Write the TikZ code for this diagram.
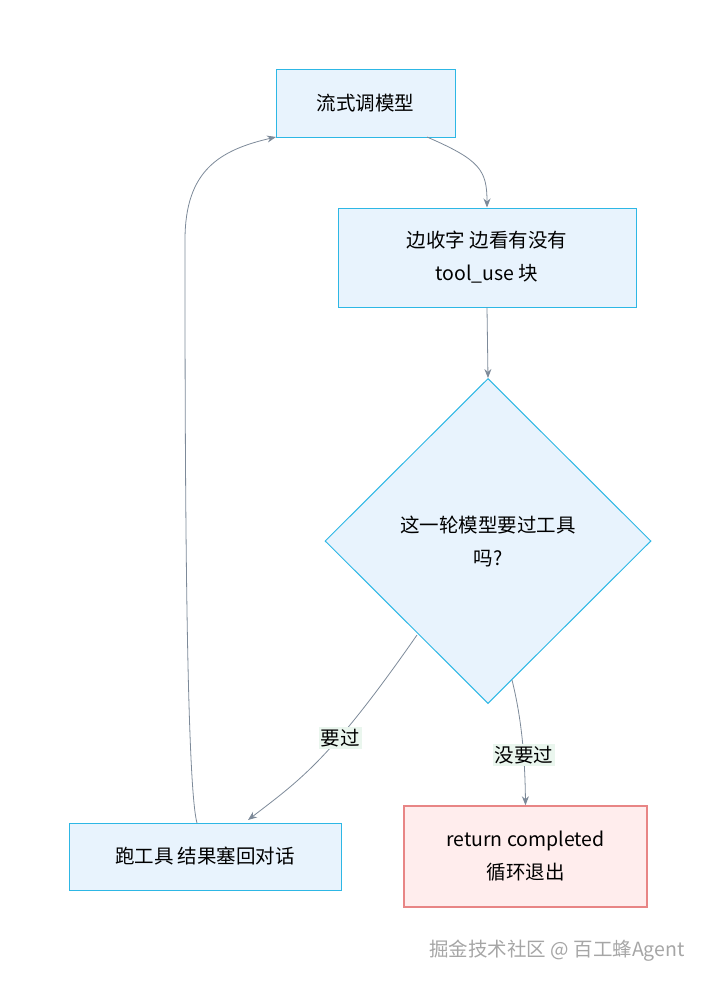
\documentclass[tikz,border=0pt]{standalone}
\usepackage{fontspec}
\setmainfont{Noto Sans CJK SC}
\usetikzlibrary{shapes.geometric,arrows.meta}
\definecolor{bfill}{HTML}{E8F3FD}
\definecolor{bline}{HTML}{2DB7E5}
\definecolor{rfill}{HTML}{FFEDED}
\definecolor{rline}{HTML}{E88585}
\definecolor{arr}{HTML}{7D8A99}
\definecolor{lbl}{HTML}{EAF6EE}
\begin{document}
\begin{tikzpicture}[x=1pt,y=-1pt,
  box/.style={draw=bline,fill=bfill,line width=1pt,align=center,font=\fontsize{19.5}{33}\selectfont,inner sep=0},
  conn/.style={draw=arr,line width=0.8pt,-{Stealth[length=9pt,width=7pt]}},
  lab/.style={fill=lbl,font=\fontsize{19.5}{22}\selectfont,inner sep=2pt}]
\useasboundingbox (0,0) rectangle (720,988);
\node[box,minimum width=179,minimum height=68] (A) at (365.5,103) {流式调模型};
\node[box,minimum width=298,minimum height=99] (B) at (487,257.5) {边收字 边看有没有\\tool\_use 块};
\node[box,diamond,minimum width=326,minimum height=325] (C) at (488,541) {这一轮模型要过工具\\吗?};
\node[box,minimum width=272,minimum height=67] (D) at (205,856.5) {跑工具 结果塞回对话};
\node[box,draw=rline,fill=rfill,line width=1.5pt,minimum width=243,minimum height=101] (E) at (525.5,856.5) {return completed\\循环退出};
\coordinate (a1) at (427,137);
\draw[conn] (a1) .. controls (480,160) and (487,170) .. (B.north);
\draw[conn] (B.south) -- (C.north);
\coordinate (c1) at (417,635);
\draw[conn] (c1) .. controls (330,760) and (300,780) .. (248,820);
\coordinate (c2) at (512,680);
\draw[conn] (c2) .. controls (522,720) and (525,760) .. (E.north);
\coordinate (d1) at (197,823);
\draw[conn] (d1) .. controls (185,780) and (185,400) .. (185,240) .. controls (185,170) and (220,150) .. (276,137);
\node[lab] (L1) at (340,738) {要过};
\node[lab] (L2) at (524,755) {没要过};
\node[font=\fontsize{19.5}{22}\selectfont,text=gray!70] (W) at (557,951) {掘金技术社区 @ 百工蜂Agent};
\end{tikzpicture}
\end{document}
